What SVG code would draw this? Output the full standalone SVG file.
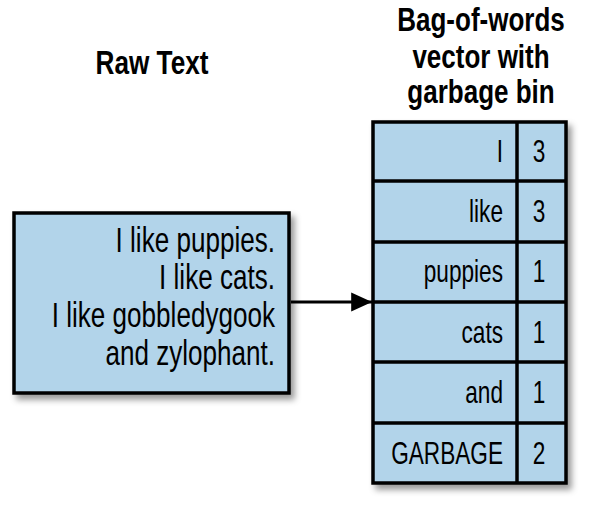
<svg xmlns="http://www.w3.org/2000/svg" width="593" height="510" viewBox="0 0 593 510">
<defs>
<filter id="sh" x="-10%" y="-10%" width="130%" height="130%">
<feDropShadow dx="4" dy="5" stdDeviation="3" flood-color="#000" flood-opacity="0.4"/>
</filter>
<marker id="arr" markerWidth="6.5" markerHeight="6" refX="6.5" refY="3" orient="auto" markerUnits="strokeWidth">
<path d="M0,0 L6.5,3 L0,6 Z" fill="#000"/>
</marker>
<style>
.box{fill:#b2d4ea;stroke:#000;stroke-width:3.5}
.t{font-family:"Liberation Sans",Arial,sans-serif;font-size:35px;fill:#000}
.h{font-family:"Liberation Sans",Arial,sans-serif;font-size:34px;font-weight:bold;fill:#000;text-anchor:middle}
.c{font-family:"Liberation Sans",Arial,sans-serif;font-size:31px;fill:#000}
</style>
</defs>
<rect width="593" height="510" fill="#fff"/>
<g id="title-raw"><text class="h" transform="translate(152,74) scale(0.77,1)">Raw Text</text></g>
<g id="title-bag">
<text class="h" transform="translate(481,31) scale(0.765,1)">Bag-of-words</text>
<text class="h" transform="translate(481,67.5) scale(0.765,1)">vector with</text>
<text class="h" transform="translate(481,102.5) scale(0.765,1)">garbage bin</text>
</g>
<g id="raw-text">
<rect class="box" x="14" y="213" width="275" height="180" filter="url(#sh)"/>
<g text-anchor="end">
<text class="t" transform="translate(275,252) scale(0.745,1)">I like puppies.</text>
<text class="t" transform="translate(275,289) scale(0.745,1)">I like cats.</text>
<text class="t" transform="translate(275,327) scale(0.745,1)">I like gobbledygook</text>
<text class="t" transform="translate(275,365) scale(0.745,1)">and zylophant.</text>
</g>
</g>
<g id="vector">
<rect class="box" x="373" y="122" width="193" height="361" filter="url(#sh)"/>
<g stroke="#000" stroke-width="3.5" fill="none">
<line x1="517" y1="122" x2="517" y2="483"/>
<line x1="373" y1="181" x2="566" y2="181"/>
<line x1="373" y1="242" x2="566" y2="242"/>
<line x1="373" y1="302" x2="566" y2="302"/>
<line x1="373" y1="362" x2="566" y2="362"/>
<line x1="373" y1="423" x2="566" y2="423"/>
</g>
<g id="row-I"><text class="c" text-anchor="end" transform="translate(503,162) scale(0.73,1)">I</text><text class="c" text-anchor="middle" transform="translate(539,162) scale(0.73,1)">3</text></g>
<g id="row-like"><text class="c" text-anchor="end" transform="translate(503,222) scale(0.73,1)">like</text><text class="c" text-anchor="middle" transform="translate(539,222) scale(0.73,1)">3</text></g>
<g id="row-puppies"><text class="c" text-anchor="end" transform="translate(503,282) scale(0.73,1)">puppies</text><text class="c" text-anchor="middle" transform="translate(539,282) scale(0.73,1)">1</text></g>
<g id="row-cats"><text class="c" text-anchor="end" transform="translate(503,343) scale(0.73,1)">cats</text><text class="c" text-anchor="middle" transform="translate(539,343) scale(0.73,1)">1</text></g>
<g id="row-and"><text class="c" text-anchor="end" transform="translate(503,403) scale(0.73,1)">and</text><text class="c" text-anchor="middle" transform="translate(539,403) scale(0.73,1)">1</text></g>
<g id="row-garbage"><text class="c" text-anchor="end" transform="translate(503,464) scale(0.73,1)">GARBAGE</text><text class="c" text-anchor="middle" transform="translate(539,464) scale(0.73,1)">2</text></g>
</g>
<g id="connectors">
<line x1="291" y1="302" x2="372" y2="302" stroke="#000" stroke-width="3.2" marker-end="url(#arr)"/>
</g>
</svg>
